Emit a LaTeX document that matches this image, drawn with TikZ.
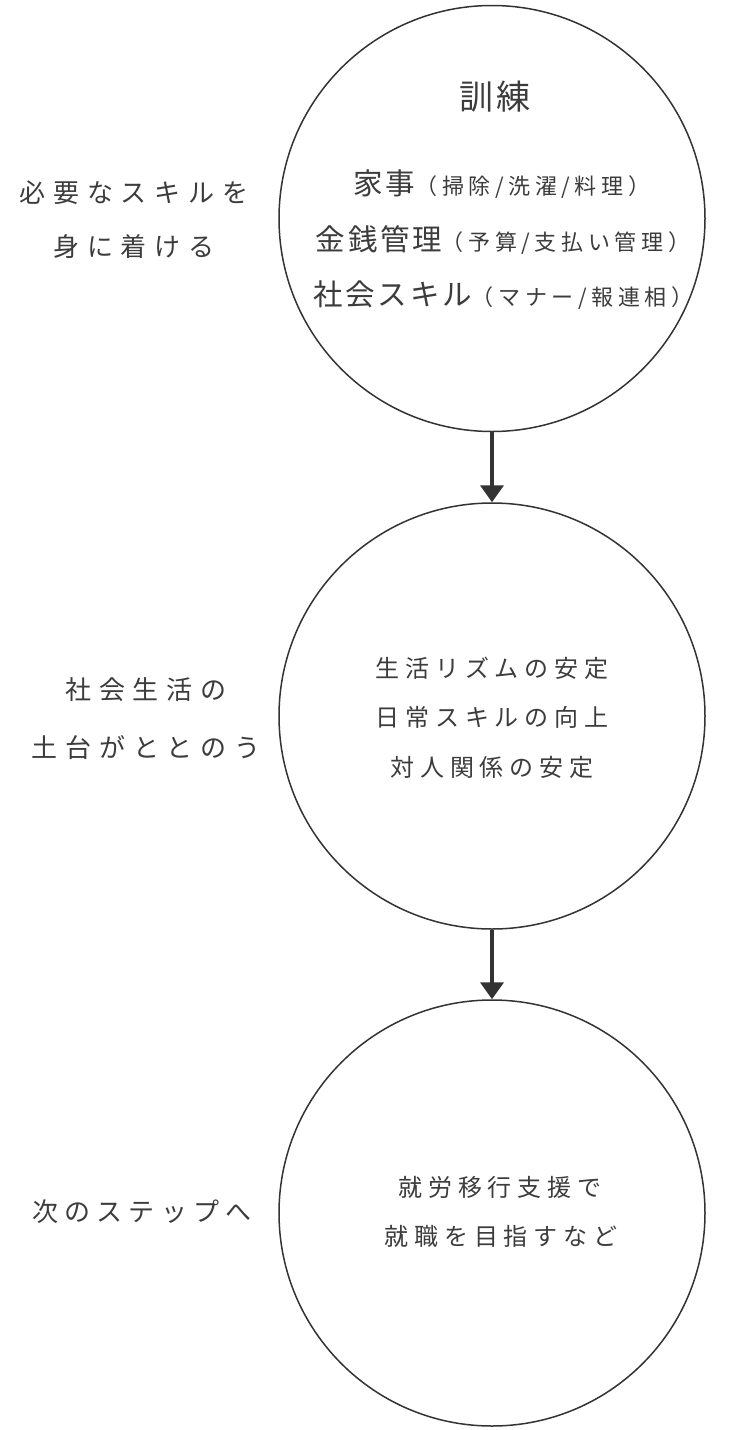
\documentclass[tikz,border=0pt]{standalone}
\usepackage{fontspec}
\setmainfont{Noto Sans CJK JP}
\newfontfamily\jpwide[LetterSpace=30]{Noto Sans CJK JP}
\newfontfamily\jpmid[LetterSpace=24]{Noto Sans CJK JP}
\newfontfamily\jpparen[LetterSpace=21]{Noto Sans CJK JP}
\newfontfamily\jptight[LetterSpace=9]{Noto Sans CJK JP}
\usetikzlibrary{arrows.meta}
\definecolor{ink}{HTML}{333333}
\definecolor{txt}{HTML}{3C3C3C}
\begin{document}
\begin{tikzpicture}[x=1pt,y=-1pt]
\tikzset{
  circ/.style={draw=ink, line width=1.5pt, circle, minimum size=426pt, inner sep=0pt},
  flow/.style={draw=ink, line width=4pt, -{Triangle[width=23pt,length=17pt]}},
  lbl/.style={text=txt, align=center, inner sep=0pt},
}
\useasboundingbox (0,0) rectangle (750,1430);
\node[circ] (c1) at (492,218.5) {};
\node[circ] (c2) at (492,716) {};
\node[circ] (c3) at (492,1213) {};
\draw[flow] (c1.south) -- (c2.north);
\draw[flow] (c2.south) -- (c3.north);
% circle 1
\node[lbl] (t0) at (495,97) {\jptight\fontsize{34}{40}\selectfont 訓練};
\node[lbl] (t1) at (502,184) {{\jptight\fontsize{29.5}{34}\selectfont 家事}{\jpparen\fontsize{22}{26}\selectfont （掃除/洗濯/料理）}};
\node[lbl] (t2) at (503,240) {{\jptight\fontsize{29.5}{34}\selectfont 金銭管理}{\jpparen\fontsize{22}{26}\selectfont （予算/支払い管理）}};
\node[lbl] (t3) at (503.5,295) {{\jptight\fontsize{29.5}{34}\selectfont 社会スキル}{\jpparen\fontsize{22}{26}\selectfont （マナー/報連相）}};
% circle 2
\node[lbl] (m1) at (492,668) {\jpmid\fontsize{24}{28}\selectfont 生活リズムの安定};
\node[lbl] (m2) at (492,717) {\jpmid\fontsize{24}{28}\selectfont 日常スキルの向上};
\node[lbl] (m3) at (492,767) {\jpmid\fontsize{24}{28}\selectfont 対人関係の安定};
% circle 3
\node[lbl] (b1) at (500,1187) {\jpmid\fontsize{24}{28}\selectfont 就労移行支援で};
\node[lbl] (b2) at (501,1236) {\jpmid\fontsize{24}{28}\selectfont 就職を目指すなど};
% left labels
\node[lbl] (l1a) at (134,193) {\jpwide\fontsize{26}{30}\selectfont 必要なスキルを};
\node[lbl] (l1b) at (134,247) {\jpwide\fontsize{26}{30}\selectfont 身に着ける};
\node[lbl] (l2a) at (146,690) {\jpwide\fontsize{26}{30}\selectfont 社会生活の};
\node[lbl] (l2b) at (146,748) {\jpwide\fontsize{26}{30}\selectfont 土台がととのう};
\node[lbl] (l3) at (142,1212) {\jpmid\fontsize{26}{30}\selectfont 次のステップへ};
\end{tikzpicture}
\end{document}
